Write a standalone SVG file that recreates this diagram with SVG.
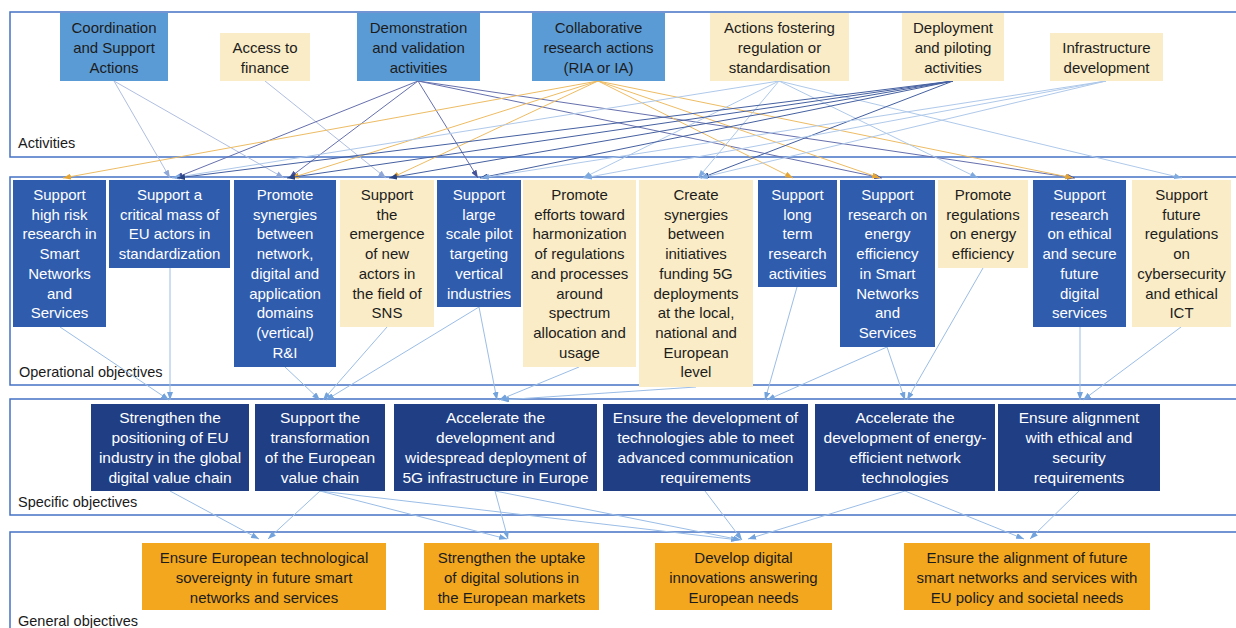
<svg xmlns="http://www.w3.org/2000/svg" width="1236" height="628" viewBox="0 0 1236 628">
<style>
text{font-family:"Liberation Sans",Arial,sans-serif;font-size:15px;text-anchor:middle}
.lbl{text-anchor:start;font-size:14.5px;fill:#1a1a1a}
.frame{fill:none;stroke:#4472C4;stroke-width:1.5}
.act{fill:#5B9BD5}
.cream{fill:#FAECC6}
.op{fill:#2F5CAD}
.spec{fill:#1F3E84}
.gen{fill:#F2A71E}
.dk{fill:#1c1c1c}
.wt{fill:#ffffff}
.sp text{font-size:15.5px}
#connectors line{stroke-width:1;fill:none}
.cg{stroke:#B0BEE0;marker-end:url(#mg)}
.cd{stroke:#6670AD;marker-end:url(#md)}
.co{stroke:#EDBC64;marker-end:url(#mo)}
.cl{stroke:#AFC9EA;marker-end:url(#ml)}
.cn{stroke:#4560A0;marker-end:url(#mn)}
.cb{stroke:#9BBDE6;marker-end:url(#mb)}
</style>
<defs>
<marker id="mg" viewBox="0 0 8 6" refX="8" refY="3" markerWidth="8" markerHeight="6" markerUnits="userSpaceOnUse" orient="auto"><path d="M0,0L8,3L0,6z" fill="#8FA8D8"/></marker>
<marker id="md" viewBox="0 0 8 6" refX="8" refY="3" markerWidth="8" markerHeight="6" markerUnits="userSpaceOnUse" orient="auto"><path d="M0,0L8,3L0,6z" fill="#46529A"/></marker>
<marker id="mo" viewBox="0 0 8 6" refX="8" refY="3" markerWidth="8" markerHeight="6" markerUnits="userSpaceOnUse" orient="auto"><path d="M0,0L8,3L0,6z" fill="#E5A535"/></marker>
<marker id="ml" viewBox="0 0 8 6" refX="8" refY="3" markerWidth="8" markerHeight="6" markerUnits="userSpaceOnUse" orient="auto"><path d="M0,0L8,3L0,6z" fill="#7FAADF"/></marker>
<marker id="mn" viewBox="0 0 8 6" refX="8" refY="3" markerWidth="8" markerHeight="6" markerUnits="userSpaceOnUse" orient="auto"><path d="M0,0L8,3L0,6z" fill="#2A4585"/></marker>
<marker id="mb" viewBox="0 0 8 6" refX="8" refY="3" markerWidth="8" markerHeight="6" markerUnits="userSpaceOnUse" orient="auto"><path d="M0,0L8,3L0,6z" fill="#73A3DC"/></marker>
</defs>
<rect width="1236" height="628" fill="#ffffff"/>
<g id="frames">
<rect class="frame" x="10" y="12" width="1240" height="145"/>
<rect class="frame" x="10" y="177" width="1240" height="208"/>
<rect class="frame" x="10" y="399" width="1240" height="116"/>
<rect class="frame" x="10" y="532" width="1240" height="110"/>
<text class="lbl" x="18" y="148">Activities</text>
<text class="lbl" x="19" y="377">Operational objectives</text>
<text class="lbl" x="18" y="507">Specific objectives</text>
<text class="lbl" x="18" y="626">General objectives</text>
</g>
<g id="connectors">
<line class="cg" x1="114" y1="81" x2="170" y2="178"/>
<line class="cg" x1="114" y1="81" x2="284" y2="178"/>
<line class="cg" x1="265" y1="81" x2="386" y2="178"/>
<line class="cd" x1="418" y1="81" x2="175" y2="178"/>
<line class="cd" x1="418" y1="81" x2="289" y2="178"/>
<line class="cd" x1="418" y1="81" x2="478" y2="178"/>
<line class="cd" x1="418" y1="81" x2="882" y2="178"/>
<line class="cd" x1="418" y1="81" x2="1075" y2="178"/>
<line class="co" x1="598" y1="81" x2="63" y2="178"/>
<line class="co" x1="598" y1="81" x2="291" y2="178"/>
<line class="co" x1="598" y1="81" x2="391" y2="178"/>
<line class="co" x1="598" y1="81" x2="793" y2="178"/>
<line class="co" x1="598" y1="81" x2="880" y2="178"/>
<line class="co" x1="598" y1="81" x2="1073" y2="178"/>
<line class="cl" x1="779" y1="81" x2="172" y2="178"/>
<line class="cl" x1="779" y1="81" x2="583" y2="178"/>
<line class="cl" x1="779" y1="81" x2="698" y2="178"/>
<line class="cl" x1="779" y1="81" x2="978" y2="178"/>
<line class="cl" x1="779" y1="81" x2="1182" y2="178"/>
<line class="cn" x1="953" y1="81" x2="177" y2="178"/>
<line class="cn" x1="953" y1="81" x2="287" y2="178"/>
<line class="cn" x1="953" y1="81" x2="389" y2="178"/>
<line class="cn" x1="953" y1="81" x2="480" y2="178"/>
<line class="cn" x1="953" y1="81" x2="701" y2="178"/>
<line class="cl" x1="1106" y1="81" x2="481" y2="178"/>
<line class="cl" x1="1106" y1="81" x2="584" y2="178"/>
<line class="cl" x1="1106" y1="81" x2="700" y2="178"/>
<line class="cb" x1="60" y1="327" x2="169" y2="400"/>
<line class="cb" x1="170" y1="268" x2="170" y2="400"/>
<line class="cb" x1="285" y1="367" x2="320" y2="400"/>
<line class="cb" x1="387" y1="327" x2="323" y2="400"/>
<line class="cb" x1="479" y1="307" x2="326" y2="400"/>
<line class="cb" x1="479" y1="307" x2="497" y2="400"/>
<line class="cb" x1="579" y1="367" x2="499" y2="400"/>
<line class="cb" x1="696" y1="387" x2="501" y2="400"/>
<line class="cb" x1="797" y1="287" x2="765" y2="400"/>
<line class="cb" x1="887" y1="347" x2="767" y2="400"/>
<line class="cb" x1="887" y1="347" x2="905" y2="400"/>
<line class="cb" x1="983" y1="268" x2="907" y2="400"/>
<line class="cb" x1="1080" y1="327" x2="1080" y2="400"/>
<line class="cb" x1="1181" y1="327" x2="1083" y2="400"/>
<line class="cb" x1="170" y1="491" x2="259" y2="539"/>
<line class="cb" x1="320" y1="491" x2="268" y2="539"/>
<line class="cb" x1="320" y1="491" x2="507" y2="539"/>
<line class="cb" x1="320" y1="491" x2="739" y2="540"/>
<line class="cb" x1="495" y1="491" x2="508" y2="539"/>
<line class="cb" x1="495" y1="491" x2="741" y2="540"/>
<line class="cb" x1="705" y1="491" x2="742" y2="540"/>
<line class="cb" x1="905" y1="491" x2="748" y2="539"/>
<line class="cb" x1="905" y1="491" x2="1024" y2="539"/>
<line class="cb" x1="1079" y1="491" x2="1030" y2="539"/>
</g>
<g id="act-csa"><rect class="act" x="60" y="13" width="108" height="68"/><text class="dk"><tspan x="114" y="33">Coordination</tspan><tspan x="114" y="53">and Support</tspan><tspan x="114" y="73">Actions</tspan></text></g>
<g id="act-finance"><rect class="cream" x="220" y="33" width="90" height="48"/><text class="dk"><tspan x="265" y="53">Access to</tspan><tspan x="265" y="73">finance</tspan></text></g>
<g id="act-demo"><rect class="act" x="357" y="13" width="123" height="68"/><text class="dk"><tspan x="418.5" y="33">Demonstration</tspan><tspan x="418.5" y="53">and validation</tspan><tspan x="418.5" y="73">activities</tspan></text></g>
<g id="act-collab"><rect class="act" x="532" y="13" width="133" height="68"/><text class="dk"><tspan x="598.5" y="33">Collaborative</tspan><tspan x="598.5" y="53">research actions</tspan><tspan x="598.5" y="73">(RIA or IA)</tspan></text></g>
<g id="act-reg"><rect class="cream" x="710" y="13" width="139" height="68"/><text class="dk"><tspan x="779.5" y="33">Actions fostering</tspan><tspan x="779.5" y="53">regulation or</tspan><tspan x="779.5" y="73">standardisation</tspan></text></g>
<g id="act-deploy"><rect class="cream" x="902" y="13" width="102" height="68"/><text class="dk"><tspan x="953" y="33">Deployment</tspan><tspan x="953" y="53">and piloting</tspan><tspan x="953" y="73">activities</tspan></text></g>
<g id="act-infra"><rect class="cream" x="1050" y="33" width="113" height="48"/><text class="dk"><tspan x="1106.5" y="53">Infrastructure</tspan><tspan x="1106.5" y="73">development</tspan></text></g>
<g id="op1"><rect class="op" x="13" y="180" width="93" height="147"/><text class="wt"><tspan x="59.5" y="200">Support</tspan><tspan x="59.5" y="219.7">high risk</tspan><tspan x="59.5" y="239.4">research in</tspan><tspan x="59.5" y="259.1">Smart</tspan><tspan x="59.5" y="278.8">Networks</tspan><tspan x="59.5" y="298.5">and</tspan><tspan x="59.5" y="318.2">Services</tspan></text></g>
<g id="op2"><rect class="op" x="109" y="180" width="121" height="88"/><text class="wt"><tspan x="169.5" y="200">Support a</tspan><tspan x="169.5" y="219.7">critical mass of</tspan><tspan x="169.5" y="239.4">EU actors in</tspan><tspan x="169.5" y="259.1">standardization</tspan></text></g>
<g id="op3"><rect class="op" x="234" y="180" width="102" height="187"/><text class="wt"><tspan x="285" y="200">Promote</tspan><tspan x="285" y="219.7">synergies</tspan><tspan x="285" y="239.4">between</tspan><tspan x="285" y="259.1">network,</tspan><tspan x="285" y="278.8">digital and</tspan><tspan x="285" y="298.5">application</tspan><tspan x="285" y="318.2">domains</tspan><tspan x="285" y="337.9">(vertical)</tspan><tspan x="285" y="357.6">R&amp;I</tspan></text></g>
<g id="op4"><rect class="cream" x="340" y="180" width="94" height="147"/><text class="dk"><tspan x="387" y="200">Support</tspan><tspan x="387" y="219.7">the</tspan><tspan x="387" y="239.4">emergence</tspan><tspan x="387" y="259.1">of new</tspan><tspan x="387" y="278.8">actors in</tspan><tspan x="387" y="298.5">the field of</tspan><tspan x="387" y="318.2">SNS</tspan></text></g>
<g id="op5"><rect class="op" x="437" y="180" width="84" height="127"/><text class="wt"><tspan x="479" y="200">Support</tspan><tspan x="479" y="219.7">large</tspan><tspan x="479" y="239.4">scale pilot</tspan><tspan x="479" y="259.1">targeting</tspan><tspan x="479" y="278.8">vertical</tspan><tspan x="479" y="298.5">industries</tspan></text></g>
<g id="op6"><rect class="cream" x="523" y="180" width="113" height="187"/><text class="dk"><tspan x="579.5" y="200">Promote</tspan><tspan x="579.5" y="219.7">efforts toward</tspan><tspan x="579.5" y="239.4">harmonization</tspan><tspan x="579.5" y="259.1">of regulations</tspan><tspan x="579.5" y="278.8">and processes</tspan><tspan x="579.5" y="298.5">around</tspan><tspan x="579.5" y="318.2">spectrum</tspan><tspan x="579.5" y="337.9">allocation and</tspan><tspan x="579.5" y="357.6">usage</tspan></text></g>
<g id="op7"><rect class="cream" x="639" y="180" width="114" height="207"/><text class="dk"><tspan x="696" y="200">Create</tspan><tspan x="696" y="219.7">synergies</tspan><tspan x="696" y="239.4">between</tspan><tspan x="696" y="259.1">initiatives</tspan><tspan x="696" y="278.8">funding 5G</tspan><tspan x="696" y="298.5">deployments</tspan><tspan x="696" y="318.2">at the local,</tspan><tspan x="696" y="337.9">national and</tspan><tspan x="696" y="357.6">European</tspan><tspan x="696" y="377.3">level</tspan></text></g>
<g id="op8"><rect class="op" x="758" y="180" width="79" height="107"/><text class="wt"><tspan x="797.5" y="200">Support</tspan><tspan x="797.5" y="219.7">long</tspan><tspan x="797.5" y="239.4">term</tspan><tspan x="797.5" y="259.1">research</tspan><tspan x="797.5" y="278.8">activities</tspan></text></g>
<g id="op9"><rect class="op" x="840" y="180" width="95" height="167"/><text class="wt"><tspan x="887.5" y="200">Support</tspan><tspan x="887.5" y="219.7">research on</tspan><tspan x="887.5" y="239.4">energy</tspan><tspan x="887.5" y="259.1">efficiency</tspan><tspan x="887.5" y="278.8">in Smart</tspan><tspan x="887.5" y="298.5">Networks</tspan><tspan x="887.5" y="318.2">and</tspan><tspan x="887.5" y="337.9">Services</tspan></text></g>
<g id="op10"><rect class="cream" x="938" y="180" width="90" height="88"/><text class="dk"><tspan x="983" y="200">Promote</tspan><tspan x="983" y="219.7">regulations</tspan><tspan x="983" y="239.4">on energy</tspan><tspan x="983" y="259.1">efficiency</tspan></text></g>
<g id="op11"><rect class="op" x="1033" y="180" width="93" height="147"/><text class="wt"><tspan x="1079.5" y="200">Support</tspan><tspan x="1079.5" y="219.7">research</tspan><tspan x="1079.5" y="239.4">on ethical</tspan><tspan x="1079.5" y="259.1">and secure</tspan><tspan x="1079.5" y="278.8">future</tspan><tspan x="1079.5" y="298.5">digital</tspan><tspan x="1079.5" y="318.2">services</tspan></text></g>
<g id="op12"><rect class="cream" x="1132" y="180" width="99" height="147"/><text class="dk"><tspan x="1181.5" y="200">Support</tspan><tspan x="1181.5" y="219.7">future</tspan><tspan x="1181.5" y="239.4">regulations</tspan><tspan x="1181.5" y="259.1">on</tspan><tspan x="1181.5" y="278.8">cybersecurity</tspan><tspan x="1181.5" y="298.5">and ethical</tspan><tspan x="1181.5" y="318.2">ICT</tspan></text></g>
<g id="spec1" class="sp"><rect class="spec" x="91" y="404" width="158" height="87"/><text class="wt"><tspan x="170" y="423">Strengthen the</tspan><tspan x="170" y="443">positioning of EU</tspan><tspan x="170" y="463">industry in the global</tspan><tspan x="170" y="483">digital value chain</tspan></text></g>
<g id="spec2" class="sp"><rect class="spec" x="255" y="404" width="130" height="87"/><text class="wt"><tspan x="320" y="423">Support the</tspan><tspan x="320" y="443">transformation</tspan><tspan x="320" y="463">of the European</tspan><tspan x="320" y="483">value chain</tspan></text></g>
<g id="spec3" class="sp"><rect class="spec" x="394" y="404" width="203" height="87"/><text class="wt"><tspan x="495.5" y="423">Accelerate the</tspan><tspan x="495.5" y="443">development and</tspan><tspan x="495.5" y="463">widespread deployment of</tspan><tspan x="495.5" y="483">5G infrastructure in Europe</tspan></text></g>
<g id="spec4" class="sp"><rect class="spec" x="603" y="404" width="205" height="87"/><text class="wt"><tspan x="705.5" y="423">Ensure the development of</tspan><tspan x="705.5" y="443">technologies able to meet</tspan><tspan x="705.5" y="463">advanced communication</tspan><tspan x="705.5" y="483">requirements</tspan></text></g>
<g id="spec5" class="sp"><rect class="spec" x="815" y="404" width="180" height="87"/><text class="wt"><tspan x="905" y="423">Accelerate the</tspan><tspan x="905" y="443">development of energy-</tspan><tspan x="905" y="463">efficient network</tspan><tspan x="905" y="483">technologies</tspan></text></g>
<g id="spec6" class="sp"><rect class="spec" x="998" y="404" width="162" height="87"/><text class="wt"><tspan x="1079" y="423">Ensure alignment</tspan><tspan x="1079" y="443">with ethical and</tspan><tspan x="1079" y="463">security</tspan><tspan x="1079" y="483">requirements</tspan></text></g>
<g id="gen1"><rect class="gen" x="142" y="543" width="244" height="67"/><text class="dk"><tspan x="264" y="563">Ensure European technological</tspan><tspan x="264" y="583">sovereignty in future smart</tspan><tspan x="264" y="603">networks and services</tspan></text></g>
<g id="gen2"><rect class="gen" x="424" y="543" width="175" height="67"/><text class="dk"><tspan x="511.5" y="563">Strengthen the uptake</tspan><tspan x="511.5" y="583">of digital solutions in</tspan><tspan x="511.5" y="603">the European markets</tspan></text></g>
<g id="gen3"><rect class="gen" x="655" y="543" width="177" height="67"/><text class="dk"><tspan x="743.5" y="563">Develop digital</tspan><tspan x="743.5" y="583">innovations answering</tspan><tspan x="743.5" y="603">European needs</tspan></text></g>
<g id="gen4"><rect class="gen" x="904" y="543" width="246" height="67"/><text class="dk"><tspan x="1027" y="563">Ensure the alignment of future</tspan><tspan x="1027" y="583">smart networks and services with</tspan><tspan x="1027" y="603">EU policy and societal needs</tspan></text></g>
</svg>
